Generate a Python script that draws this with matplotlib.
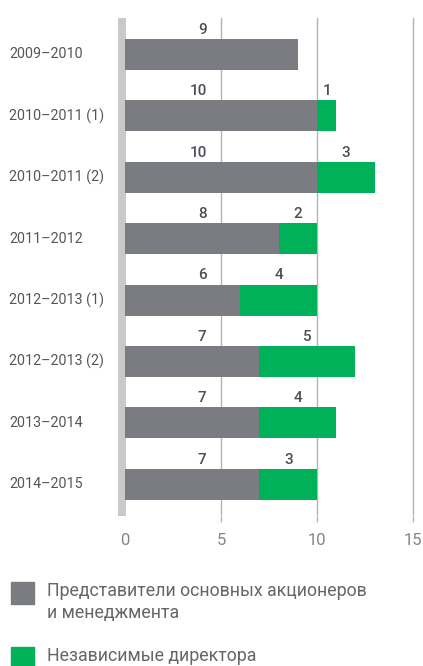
import matplotlib
matplotlib.use('Agg')
import matplotlib.pyplot as plt
import matplotlib.transforms as mtransforms
from matplotlib.patches import Rectangle
import numpy as np

# Состав совета директоров по годам
periods = ['2009–2010', '2010–2011 (1)', '2010–2011 (2)', '2011–2012',
           '2012–2013 (1)', '2012–2013 (2)', '2013–2014', '2014–2015']
shareholders = [9, 10, 10, 8, 6, 7, 7, 7]
independent = [0, 1, 3, 2, 4, 5, 4, 3]
series_names = ['Представители основных акционеров\nи менеджмента',
                'Независимые директора']
x_ticks = [0, 5, 10, 15]

GRAY = '#7b7c81'
GREEN = '#00b159'

plt.rcParams['font.family'] = ['Roboto', 'DejaVu Sans']

fig = plt.figure(figsize=(4.23, 6.66), dpi=100)
# 0 на оси -> 125 px, 19.2 px на единицу
ax = fig.add_axes([118.1 / 423, 0.2252, 296.8 / 423, 0.7478])

y = np.arange(len(periods))
bar_h = 0.505
ax.barh(y, shareholders, height=bar_h, color=GRAY, zorder=3)
ax.barh(y, independent, left=shareholders, height=bar_h, color=GREEN, zorder=3)

# подписи значений над столбцами
for i in range(len(periods)):
    ty = i - bar_h / 2 - 0.085
    ax.text(4.25, ty, str(shareholders[i]), ha='right', va='baseline',
            fontsize=11, fontweight='medium', color='#4d4e54')
    if independent[i]:
        ax.text(shareholders[i] + independent[i] / 2, ty, str(independent[i]),
                ha='center', va='baseline', fontsize=11, fontweight='medium',
                color='#4d4e54')

# подписи периодов слева
trans = mtransforms.blended_transform_factory(fig.transFigure, ax.transData)
for i, p in enumerate(periods):
    ax.text(9 / 423, i, p, transform=trans, ha='left', va='center',
            fontsize=10.3, color='#555555')

ax.set_xlim(-0.36, 15.1)
ax.set_ylim(7.516, -0.594)
ax.axvspan(-0.36, 0.05, color='#c9c9c9', zorder=2, lw=0)

ax.set_xticks(x_ticks)
ax.set_xticklabels([str(t) for t in x_ticks])
ax.set_yticks([])
for t in x_ticks[1:]:
    ax.axvline(t, color='#b4b4b4', lw=1, zorder=1)
ax.tick_params(axis='x', length=4.5, width=1, color='#b4b4b4', pad=8,
               labelsize=12, labelcolor='#858585')
ax.get_xticklines()[0].set_visible(False)
for s in ax.spines.values():
    s.set_visible(False)

# легенда внизу
for k, (name, col) in enumerate(zip(series_names, [GRAY, GREEN])):
    top = [582, 647][k]
    fig.patches.append(Rectangle((11 / 423, 1 - (top + 22) / 666), 23 / 423, 22 / 666,
                                 transform=fig.transFigure, color=col))
    fig.text(47 / 423, 1 - top / 666, name, ha='left', va='top', fontsize=12.8,
             color='#666666', linespacing=1.3)

fig.savefig('out.png', dpi=100)
